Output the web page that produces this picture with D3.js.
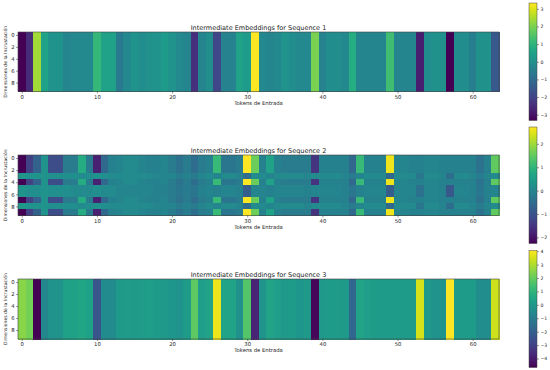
<!DOCTYPE html>
<html>
<head>
<meta charset="utf-8">
<script src="https://cdn.jsdelivr.net/npm/d3@7"></script>
<style>
  body { margin: 0; background: #fff; }
  svg { display: block; font-family: "DejaVu Sans", sans-serif; }
</style>
</head>
<body>
<div id="chart"></div>
<script>
// valores de cada token (las filas son iguales en las secuencias 1 y 3)
var seq1 = [-3.33, -2.5, 2.4, 0.5, 0.1, 0.1, -0.3, -0.2, -0.2, -0.2,
            1.1, 0.5, 0.5, -0.6, -0.2, 0.1, -0.1, 0.0, 0.1, 0.3,
            0.1, -0.2, -0.3, -2.4, -0.3, -0.1, -1.9, -0.4, -0.4, 0.5,
            0.3, 3.33, -0.2, -0.3, -0.2, 0.1, -0.1, -0.2, -0.2, 2.0,
            -0.4, -0.1, -0.1, -0.2, 0.8, -0.3, -0.3, -0.3, -0.3, 1.3,
            -0.3, -0.3, -0.3, -2.8, -0.1, 0.0, 0.0, -3.33, -0.1, -0.1,
            -0.5, 0.0, 0.0, -1.5];

// secuencia 2: filas "fuertes" y filas "suaves"
var seq2Strong = [-2.26, -1.3, -0.7, 0.3, -1.1, -1.1, -0.2, -0.2, 0.8, -0.2,
                  -1.8, -0.6, -0.1, 0.0, 0.1, 0.1, 0.0, -0.1, -0.1, 0.0,
                  -0.2, -0.4, -0.2, -0.5, -0.2, -0.1, 1.1, -0.3, -0.3, -0.2,
                  2.72, 1.6, -0.1, 0.6, -0.1, -0.2, -0.2, -0.2, -0.2, -1.5,
                  -0.1, -0.1, -0.1, -0.1, -0.6, 1.1, -0.1, -0.1, -0.1, 2.6,
                  0.0, 0.0, -0.1, -0.1, 0.0, 0.0, -0.1, -0.1, -0.1, -0.1,
                  -0.1, -0.4, -0.1, 1.5];
var seq2SoftA = [0.4, 0.3, 0.3, 0.3, 0.2, 0.2, 0.2, 0.2, 0.1, 0.2,
                 0.3, 0.2, 0.1, 0.1, 0.1, 0.1, 0.1, 0.1, 0.0, 0.0,
                 0.0, -0.2, -0.1, -0.2, 0.0, 0.1, 0.0, 0.1, 0.1, 0.0,
                 -0.5, 0.1, 0.1, 0.0, 0.1, 0.1, 0.1, 0.1, 0.0, 0.1,
                 0.1, 0.1, 0.1, 0.0, -0.2, 0.0, 0.1, 0.1, 0.1, -0.6,
                 0.1, 0.1, 0.1, -0.3, 0.1, 0.1, 0.0, -0.5, 0.1, 0.1,
                 0.0, -0.2, 0.0, 0.1];
var seq2SoftB = [0.3, 0.2, 0.2, 0.3, 0.2, 0.2, 0.2, 0.1, 0.1, 0.1,
                 0.2, 0.1, 0.1, 0.0, 0.0, 0.0, 0.0, 0.0, -0.1, -0.1,
                 -0.2, -0.3, -0.2, -0.3, -0.1, 0.0, -0.1, 0.0, 0.0, -0.1,
                 -0.8, 0.0, 0.0, -0.1, 0.0, 0.0, 0.0, 0.0, -0.1, 0.0,
                 0.0, 0.0, 0.0, -0.1, -0.3, -0.1, 0.0, 0.0, 0.0, -0.8,
                 0.0, 0.0, 0.0, -0.4, 0.0, 0.0, -0.1, -0.9, 0.0, 0.0,
                 -0.1, -0.3, -0.1, 0.0];
// patron que usa cada fila (0 = fuerte, 1 = suave A, 2 = suave B)
var seq2Rows = [0, 0, 0, 1, 0, 2, 2, 0, 1, 0];

var seq3 = [2.5, 2.2, -4.67, -0.6, -0.2, -0.2, 0.3, 0.3, 0.5, 0.3,
            -2.4, -0.5, -0.5, 0.0, 0.1, 0.0, 0.1, 0.2, 0.1, 0.0,
            -0.1, -0.2, 0.1, 1.9, 0.2, 0.4, 3.8, 0.4, 0.4, -0.3,
            1.7, -3.8, -0.2, 0.4, 0.2, 0.0, 0.1, -0.1, 0.0, -4.5,
            0.0, 0.1, 0.1, 0.0, -1.8, 0.4, 0.2, 0.1, 0.1, 0.1,
            0.1, 0.1, 0.1, 3.5, 0.0, -0.2, -0.2, 4.05, 0.1, 0.1,
            0.1, -0.4, -0.4, 3.4];

var titles = ["Intermediate Embeddings for Sequence 1",
              "Intermediate Embeddings for Sequence 2",
              "Intermediate Embeddings for Sequence 3"];
var xTicks = [0, 10, 20, 30, 40, 50, 60];
var yTicks = [0, 2, 4, 6, 8];
var cbTicks = [[-3, -2, -1, 0, 1, 2, 3], [-2, -1, 0, 1, 2], [-4, -3, -2, -1, 0, 1, 2, 3, 4]];

var nTok = 64, nDim = 10;

function buildGrid(rowFn) {
    var cells = [];
    for (var r = 0; r < nDim; r++) {
        var row = rowFn(r);
        for (var c = 0; c < nTok; c++) cells.push({ r: r, c: c, v: row[c] });
    }
    return cells;
}

var grids = [
    buildGrid(function () { return seq1; }),
    buildGrid(function (r) { return [seq2Strong, seq2SoftA, seq2SoftB][seq2Rows[r]]; }),
    buildGrid(function () { return seq3; })
];

var W = 550, H = 370;
var svg = d3.select("#chart").append("svg").attr("width", W).attr("height", H);

var axL = 18, axR = 499;
var panels = [{ top: 32, bottom: 91.5, cbTop: 3, cbBot: 120.5 },
              { top: 155, bottom: 215.5, cbTop: 127, cbBot: 243.5 },
              { top: 279, bottom: 339, cbTop: 250.5, cbBot: 367.5 }];
var cbL = 529, cbW = 8;
var intFmt = d3.format("d");

var x = d3.scaleLinear().domain([-0.5, nTok - 0.5]).range([axL, axR]);
var defs = svg.append("defs");

panels.forEach(function (p, i) {
    var cells = grids[i];
    var ext = d3.extent(cells, function (d) { return d.v; });
    var color = d3.scaleSequential(d3.interpolateViridis).domain(ext);
    var y = d3.scaleLinear().domain([-0.5, nDim - 0.5]).range([p.top, p.bottom]);
    var g = svg.append("g");

    g.append("g").attr("shape-rendering", "crispEdges")
        .selectAll("rect.cell")
        .data(cells)
        .enter()
        .append("rect")
        .attr("class", "cell")
        .attr("x", function (d) { return x(d.c - 0.5); })
        .attr("y", function (d) { return y(d.r - 0.5); })
        .attr("width", x(0.5) - x(-0.5) + 0.5)
        .attr("height", y(0.5) - y(-0.5) + 0.5)
        .attr("fill", function (d) { return color(d.v); });

    g.append("rect")
        .attr("x", axL).attr("y", p.top)
        .attr("width", axR - axL).attr("height", p.bottom - p.top)
        .attr("fill", "none").attr("stroke", "#444").attr("stroke-width", 0.6);

    var xAxis = g.append("g")
        .attr("transform", "translate(0," + p.bottom + ")")
        .call(d3.axisBottom(x).tickValues(xTicks).tickSize(2).tickPadding(1.5));
    var yAxis = g.append("g")
        .attr("transform", "translate(" + axL + ",0)")
        .call(d3.axisLeft(y).tickValues(yTicks).tickSize(2).tickPadding(1.5));
    [xAxis, yAxis].forEach(function (a) {
        a.select(".domain").remove();
        a.selectAll("line").attr("stroke", "#333").attr("stroke-width", 0.5);
        a.selectAll("text").attr("font-size", 5.3).attr("fill", "#222")
            .attr("font-family", "DejaVu Sans");
    });

    g.append("text")
        .attr("x", (axL + axR) / 2).attr("y", p.top - 2)
        .attr("text-anchor", "middle")
        .attr("font-size", 6.5).attr("fill", "#222")
        .text(titles[i]);

    g.append("text")
        .attr("x", (axL + axR) / 2).attr("y", p.bottom + 13)
        .attr("text-anchor", "middle")
        .attr("font-size", 5.3).attr("fill", "#222")
        .text("Tokens de Entrada");

    g.append("text")
        .attr("transform", "translate(6.5," + (p.top + p.bottom) / 2 + ") rotate(-90)")
        .attr("text-anchor", "middle")
        .attr("font-size", 4.6).attr("fill", "#222")
        .text("Dimensiones de la Incrustación");

    // barra de color
    var gid = "grad" + i;
    var grad = defs.append("linearGradient").attr("id", gid)
        .attr("x1", 0).attr("y1", 1).attr("x2", 0).attr("y2", 0);
    d3.range(0, 1.0001, 0.05).forEach(function (t) {
        grad.append("stop").attr("offset", t).attr("stop-color", d3.interpolateViridis(t));
    });
    var cy = d3.scaleLinear().domain(ext).range([p.cbBot, p.cbTop]);
    g.append("rect")
        .attr("x", cbL).attr("y", p.cbTop)
        .attr("width", cbW).attr("height", p.cbBot - p.cbTop)
        .attr("fill", "url(#" + gid + ")")
        .attr("stroke", "#444").attr("stroke-width", 0.5);
    var cAxis = g.append("g")
        .attr("transform", "translate(" + (cbL + cbW) + ",0)")
        .call(d3.axisRight(cy).tickValues(cbTicks[i]).tickFormat(intFmt).tickSize(2).tickPadding(1.5));
    cAxis.select(".domain").remove();
    cAxis.selectAll("line").attr("stroke", "#333").attr("stroke-width", 0.5);
    cAxis.selectAll("text").attr("font-size", 4.6).attr("fill", "#222")
        .attr("font-family", "DejaVu Sans");
});
</script>
</body>
</html>
